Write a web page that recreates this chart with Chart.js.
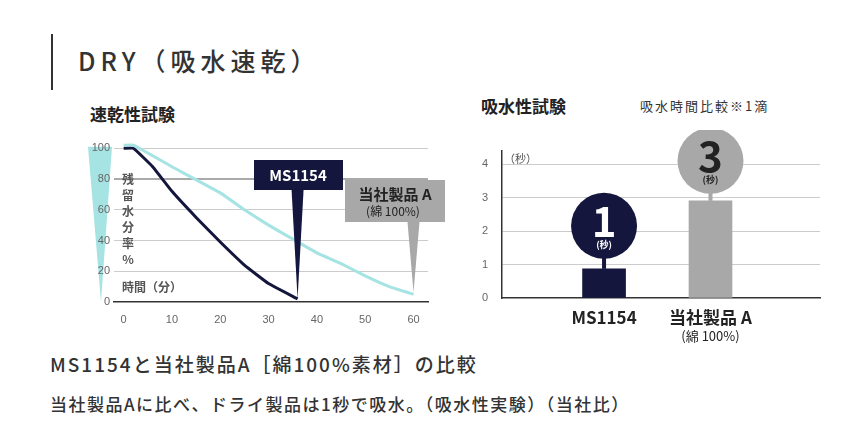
<!DOCTYPE html><html><head><meta charset="utf-8">
<script src="https://cdn.jsdelivr.net/npm/chart.js@4"></script>
<style>
body{margin:0;width:868px;height:442px;background:#fff;font-family:"Noto Sans CJK JP","Noto Sans",sans-serif;color:#222;position:relative;overflow:hidden}
.a{position:absolute;white-space:nowrap}
canvas{position:absolute}
</style></head><body>
<div class="a" style="left:51px;top:34px;width:2px;height:56px;background:#333"></div>
<div class="a" style="left:78px;top:42px;font-size:25px;font-weight:500;letter-spacing:5px;color:#333">DRY（吸水速乾）</div>
<div class="a" style="left:90px;top:101px;font-size:17px;font-weight:bold">速乾性試験</div>
<div class="a" style="left:481px;top:93px;font-size:17px;font-weight:bold">吸水性試験</div>
<div class="a" style="left:640px;top:96px;font-size:13px;letter-spacing:2px;color:#333">吸水時間比較※1滴</div>
<div class="a" style="left:50px;top:350px;font-size:19px;font-weight:500;letter-spacing:2px;color:#333">MS1154と当社製品A［綿100%素材］の比較</div>
<div class="a" style="left:50px;top:391px;font-size:17px;font-weight:500;letter-spacing:1.5px;color:#333">当社製品Aに比べ、ドライ製品は1秒で吸水。（吸水性実験）（当社比）</div>
<canvas id="c1" style="left:80px;top:130px;width:365px;height:195px"></canvas>
<canvas id="c2" style="left:470px;top:130px;width:355px;height:220px"></canvas>
<script>
const timeMS=[0,2,6,10,15,20,25,30,36];
const waterMS=[100,100,88,72,55,39,24,12,2];
const timeA=[0,2,10,20,25,30,35,40,45,50,55,60];
const waterA=[102,102,88,71,60,50,41,32,25,17,10,5];
const yTicksL=[0,20,40,60,80,100];
const xTicksL=[0,10,20,30,40,50,60];
const barCats=['MS1154','当社製品 A'];
const barSub=['','(綿 100%)'];
const barVals=[0.87,2.9];
const barShown=['1','3'];
const yTicksR=[0,1,2,3,4];
const navy='#14163d',cyan='#a6e3e3',gray='#a8a8a8';
const F='"Noto Sans CJK JP","Noto Sans",sans-serif';
new Chart(document.getElementById('c1'),{type:'line',
data:{datasets:[
{data:timeA.map((t,i)=>({x:t,y:waterA[i]})),borderColor:cyan,borderWidth:3,pointRadius:0,tension:0.1},
{data:timeMS.map((t,i)=>({x:t,y:waterMS[i]})),borderColor:navy,borderWidth:3,pointRadius:0,tension:0.1}]},
options:{responsive:false,animation:false,layout:{padding:{top:4,right:17}},plugins:{legend:{display:false},tooltip:{enabled:false}},
scales:{x:{type:'linear',min:-2,max:63,afterFit:s=>{s.height=23},afterBuildTicks:s=>{s.ticks=xTicksL.map(v=>({value:v}))},grid:{display:false},border:{color:'#333',width:1.5},ticks:{color:'#666',font:{size:11}}},
y:{min:0,max:105,afterFit:s=>{s.width=34},afterBuildTicks:s=>{s.ticks=yTicksL.map(v=>({value:v}))},grid:{color:c=>c.tick.value==0?'rgba(0,0,0,0)':(c.tick.value==80?'#aaa':'#ccc'),lineWidth:c=>c.tick.value==80?2:1,drawTicks:false},border:{display:false},ticks:{color:'#666',font:{size:11},padding:4}}}},
plugins:[{id:'p1',beforeDraw(ch){const c=ch.ctx,y=ch.scales.y;c.save();c.fillStyle=cyan;c.beginPath();c.moveTo(8,y.getPixelForValue(101));c.lineTo(32,y.getPixelForValue(101));c.lineTo(21,y.getPixelForValue(0));c.closePath();c.fill();c.restore();},
afterDraw(ch){const c=ch.ctx,x=ch.scales.x,y=ch.scales.y;c.save();
c.fillStyle='#555';c.font='bold 12px '+F;c.textAlign='center';const vt='残留水分率%';
for(let i=0;i<vt.length;i++)c.fillText(vt[i],48,54+i*16);
c.textAlign='left';c.font='bold 12px '+F;c.fillText('時間（分）',42,162);
let px=x.getPixelForValue(60),py=y.getPixelForValue(5);
c.fillStyle=gray;c.fillRect(265,50,100,42);c.beginPath();c.moveTo(px-6,92);c.lineTo(px+6,92);c.lineTo(px,py-2);c.fill();
c.fillStyle='#222';c.textAlign='center';c.font='bold 15px '+F;c.fillText('当社製品 A',315,70);c.font='12px '+F;c.fillText('(綿 100%)',313,86);
px=x.getPixelForValue(36);py=y.getPixelForValue(2);
c.fillStyle=navy;c.fillRect(174,30,89,30);c.beginPath();c.moveTo(px-6,60);c.lineTo(px+6,60);c.lineTo(px,py);c.fill();
c.fillStyle='#fff';c.font='bold 15px '+F;c.fillText('MS1154',218,51);
c.restore();}}]});
new Chart(document.getElementById('c2'),{type:'bar',
data:{datasets:[{data:barVals.map((v,i)=>({x:i+1,y:v})),backgroundColor:[navy,gray],barThickness:43}]},
options:{responsive:false,animation:false,layout:{padding:{top:3,right:5}},plugins:{legend:{display:false},tooltip:{enabled:false}},
scales:{x:{type:'linear',min:0.34,max:2.73,afterFit:s=>{s.height=52},grid:{display:false},border:{color:'#333',width:1.5},ticks:{display:false}},
y:{min:0,max:4.4,afterFit:s=>{s.width=32},afterBuildTicks:s=>{s.ticks=yTicksR.map(v=>({value:v}))},grid:{color:c=>c.tick.value==0?'rgba(0,0,0,0)':'#ccc',drawTicks:false},border:{color:'#333',width:1.5},ticks:{color:'#666',font:{size:11},padding:14}}}},
plugins:[{id:'p2',afterDraw(ch){const c=ch.ctx,x=ch.scales.x,y=ch.scales.y;c.save();
c.fillStyle='#555';c.font='11px '+F;c.textAlign='left';c.fillText('（秒）',34,y.top+12);
const cols=[navy,gray],tc=['#fff','#222'];
barVals.forEach((v,i)=>{const cx=x.getPixelForValue(i+1),top=y.getPixelForValue(v);const cy=top-(i==0?43:40),r=33;
c.fillStyle=cols[i];c.fillRect(cx-2,cy,4,top-cy);c.beginPath();c.arc(cx,cy,r,0,Math.PI*2);c.fill();
c.fillStyle=tc[i];c.textAlign='center';c.font='bold 42px '+F;c.fillText(barShown[i],cx,cy+11);c.font='bold 9px '+F;c.fillText('(秒)',cx,cy+22);
c.fillStyle='#222';c.font='bold 17px '+F;c.fillText(barCats[i],cx,y.bottom+26);c.font='13px '+F;if(barSub[i])c.fillText(barSub[i],cx,y.bottom+43);});
c.restore();}}]});
</script></body></html>
